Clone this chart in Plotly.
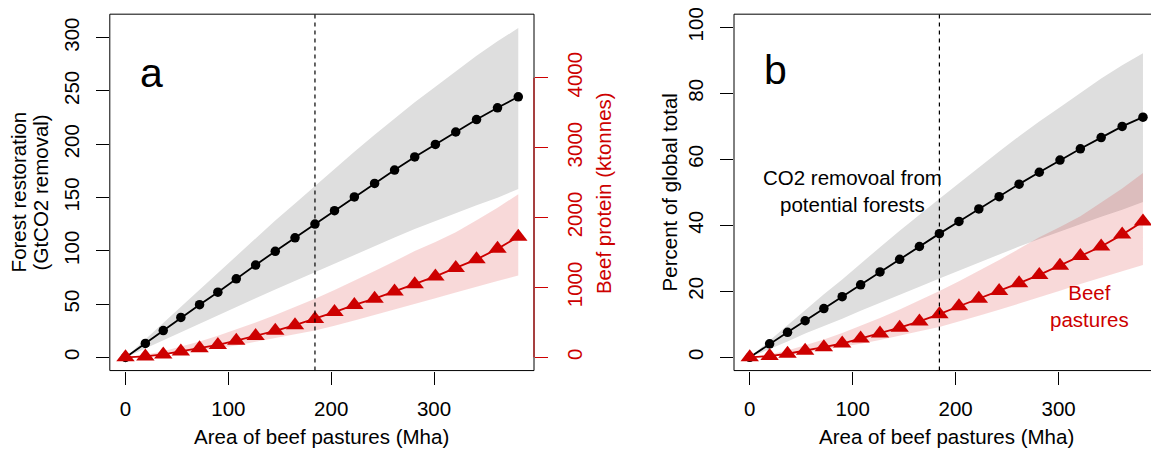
import plotly.graph_objects as go

# ---------------- data ----------------
area = [0, 19.3, 36.7, 53.8, 72, 89.8, 107.7, 126.5, 145.6, 164.8, 184.2,
        203.2, 222.5, 242.2, 261.6, 281.2, 301.3, 321.1, 341.3, 361.7, 381.9]

# panel a: forest restoration (GtCO2 removal)
co2_mid = [0, 13.2, 25.2, 37.5, 49.5, 61.2, 73.8, 86.7, 99.6, 112.2, 125.1,
           137.7, 150.6, 163.2, 175.8, 188.1, 199.8, 211.5, 223.2, 234.2, 244.5]
co2_hi = [0, 17, 32.5, 48.3, 64, 79.2, 95.5, 112, 128.5, 144.5, 161,
          177, 193, 209, 224.5, 239.5, 254, 268.5, 283, 296.5, 309]
co2_lo = [0, 8.4, 16.1, 24.0, 31.7, 39.2, 47.2, 55.5, 63.7, 71.8, 80.1,
          88.1, 96.4, 104.4, 112.5, 120.4, 127.9, 135.4, 142.8, 149.9, 158]

# panel a: beef protein (ktonnes)
beef_mid = [0, 14, 42, 84, 131, 178, 239, 305, 380, 460, 550,
            648, 750, 840, 943, 1046, 1158, 1280, 1402, 1552, 1726]
beef_hi = [0, 36, 88, 150, 226, 308, 397, 497, 605, 720, 840,
           965, 1096, 1234, 1375, 1521, 1650, 1790, 1960, 2140, 2335]
beef_lo = [0, 13, 33, 63, 96, 130, 171, 222, 272, 330, 385,
           451, 527, 602, 681, 761, 844, 928, 1012, 1091, 1170]

# panel b: percent of global total
pct_co2_mid = [0, 4.1, 7.6, 11.1, 14.8, 18.4, 22.0, 25.9, 29.7, 33.6, 37.5,
               41.2, 45.0, 48.7, 52.5, 56.1, 59.8, 63.2, 66.6, 70.0, 72.8]
pct_co2_hi = [0, 5.1, 9.7, 14.4, 19.1, 23.6, 28.5, 33.4, 38.4, 43.1, 48.1,
              52.8, 57.6, 62.4, 67.0, 71.5, 75.8, 80.1, 84.5, 88.5, 92.2]
pct_co2_lo = [0, 2.5, 4.8, 7.2, 9.5, 11.7, 14.1, 16.6, 19.0, 21.4, 23.9,
              26.3, 28.8, 31.2, 33.6, 35.9, 38.2, 40.4, 42.6, 44.7, 47.1]
pct_beef_mid = [0, 0.4, 1.1, 2.0, 3.1, 4.2, 5.7, 7.2, 9.0, 10.9, 13.1,
                15.5, 17.8, 20.1, 22.5, 25.0, 27.8, 30.7, 33.6, 37.2, 41.2]
pct_beef_hi = [0, 0.9, 2.1, 3.6, 5.4, 7.4, 9.5, 11.9, 14.5, 17.2, 20.1,
               23.1, 26.2, 29.5, 32.9, 36.4, 39.5, 42.8, 46.9, 51.2, 55.9]
pct_beef_lo = [0, 0.3, 0.8, 1.5, 2.3, 3.1, 4.1, 5.3, 6.5, 7.9, 9.2,
               10.8, 12.6, 14.4, 16.3, 18.2, 20.2, 22.2, 24.2, 26.1, 28.0]

current_area = 184.2

x_ticks = [0, 100, 200, 300]
ya_ticks = [0, 50, 100, 150, 200, 250, 300]
ya2_ticks = [0, 1000, 2000, 3000, 4000]
yb_ticks = [0, 20, 40, 60, 80, 100]

# ---------------- style ----------------
FONT = "Liberation Sans, Arial, Helvetica, sans-serif"
FS = 20.5
RED = "#CD0000"
GREY_FILL = "#DEDEDE"
RED_FILL = "rgba(205,0,0,0.15)"
W, H = 1151, 451

def px_x(p):
    return p / W

def px_y(p):
    return 1 - p / H

fig = go.Figure()

def band(x, lo, hi, color, xa, ya):
    fig.add_trace(go.Scatter(
        x=list(x) + list(x)[::-1], y=list(hi) + list(lo)[::-1],
        fill="toself", fillcolor=color, line=dict(width=0),
        mode="lines", hoverinfo="skip", showlegend=False,
        xaxis=xa, yaxis=ya))

def series(x, y, color, symbol, size, xa, ya):
    fig.add_trace(go.Scatter(
        x=x, y=y, mode="lines+markers",
        line=dict(color=color, width=1.8),
        marker=dict(color=color, symbol=symbol, size=size, line=dict(width=0)),
        showlegend=False, xaxis=xa, yaxis=ya))

# panel a
band(area, co2_lo, co2_hi, GREY_FILL, "x", "y")
band(area, beef_lo, beef_hi, RED_FILL, "x", "y2")
series(area, co2_mid, "black", "circle", 9.5, "x", "y")
series(area, beef_mid, RED, "triangle-up", 16, "x", "y2")

# panel b
band(area, pct_co2_lo, pct_co2_hi, GREY_FILL, "x2", "y3")
band(area, pct_beef_lo, pct_beef_hi, RED_FILL, "x2", "y3")
series(area, pct_co2_mid, "black", "circle", 9.5, "x2", "y3")
series(area, pct_beef_mid, RED, "triangle-up", 16, "x2", "y3")

box_top, box_bot = 7.3, 369.3
a_left, a_right = 109.8, 534.0
b_left, b_right = 734.0, 1158.7
ydom = [px_y(box_bot), px_y(box_top)]

common_x = dict(
    showline=False, zeroline=False, showgrid=False,
    ticks="outside", ticklen=13, tickwidth=1, tickcolor="black",
    tickvals=x_ticks, tickfont=dict(family=FONT, size=FS, color="black"),
    ticklabelstandoff=7,
)
common_y = dict(
    showline=False, zeroline=False, showgrid=False,
    ticks="outside", ticklen=13, tickwidth=1, tickcolor="black",
    tickangle=-90, tickfont=dict(family=FONT, size=FS, color="black"),
    ticklabelstandoff=9,
)

fig.update_layout(
    width=W, height=H,
    margin=dict(l=0, r=0, t=0, b=0),
    paper_bgcolor="white", plot_bgcolor="white",
    font=dict(family=FONT, size=FS, color="black"),
    xaxis=dict(domain=[px_x(a_left), px_x(a_right)], range=[-15.28, 397.18],
               anchor="y", **common_x),
    yaxis=dict(domain=ydom, range=[-12.3, 322], anchor="x",
               tickvals=ya_ticks, **common_y),
    yaxis2=dict(overlaying="y", side="right", anchor="x",
                range=[-189, 4909], tickvals=ya2_ticks,
                showline=False, zeroline=False, showgrid=False,
                ticks="outside", ticklen=13, tickwidth=1, tickcolor=RED,
                tickangle=-90, ticklabelstandoff=9,
                tickfont=dict(family=FONT, size=FS, color=RED)),
    xaxis2=dict(domain=[px_x(b_left), 1.0], range=[-15.28, 389.7],
                anchor="y3", **common_x),
    yaxis3=dict(domain=ydom, range=[-4, 104], anchor="x2",
                tickvals=yb_ticks, **common_y),
)

shapes = []
# boxes
for l, r in [(a_left, a_right), (b_left, b_right)]:
    shapes.append(dict(type="rect", xref="paper", yref="paper",
                       x0=px_x(l), x1=px_x(r), y0=ydom[0], y1=ydom[1],
                       line=dict(color="black", width=1), layer="above"))
# red right axis line (0..4000)
shapes.append(dict(type="line", xref="paper", yref="y2",
                   x0=px_x(a_right), x1=px_x(a_right), y0=0, y1=4000,
                   line=dict(color=RED, width=1), layer="above"))
# dashed vertical lines
for xa in ["x", "x2"]:
    shapes.append(dict(type="line", xref=xa, yref="paper",
                       x0=current_area, x1=current_area, y0=ydom[0], y1=ydom[1],
                       line=dict(color="black", width=1.2, dash="4px,4px"),
                       layer="above"))
fig.update_layout(shapes=shapes)

ann = []
def text(x, y, s, size=FS, color="black", xref="paper", yref="paper", angle=0):
    ann.append(dict(x=x, y=y, xref=xref, yref=yref, text=s, showarrow=False,
                    textangle=angle, xanchor="center", yanchor="middle",
                    font=dict(family=FONT, size=size, color=color)))

# axis titles
text(px_x((a_left + a_right) / 2), px_y(436), "Area of beef pastures (Mha)")
text(px_x((b_left + b_right) / 2), px_y(436), "Area of beef pastures (Mha)")
text(px_x(18), px_y(188.3), "Forest restoration", angle=-90)
text(px_x(40), px_y(188.3), "(GtCO2 removal)", angle=-90)
text(px_x(603), px_y(189), "Beef protein (ktonnes)", color=RED, angle=-90)
text(px_x(669), px_y(188.3), "Percent of global total", angle=-90)
# panel letters
text(25, 267, "a", size=41, xref="x", yref="y")
text(25, 87, "b", size=41, xref="x2", yref="y3")
# labels in panel b
text(100, 50.5, "CO2 removoal from<br>potential forests", xref="x2", yref="y3")
text(330, 15.5, "Beef<br>pastures", color=RED, xref="x2", yref="y3")
fig.update_layout(annotations=ann)

fig.write_html("out.html", config={"displayModeBar": False},
               post_script="document.body.style.margin='0';")
